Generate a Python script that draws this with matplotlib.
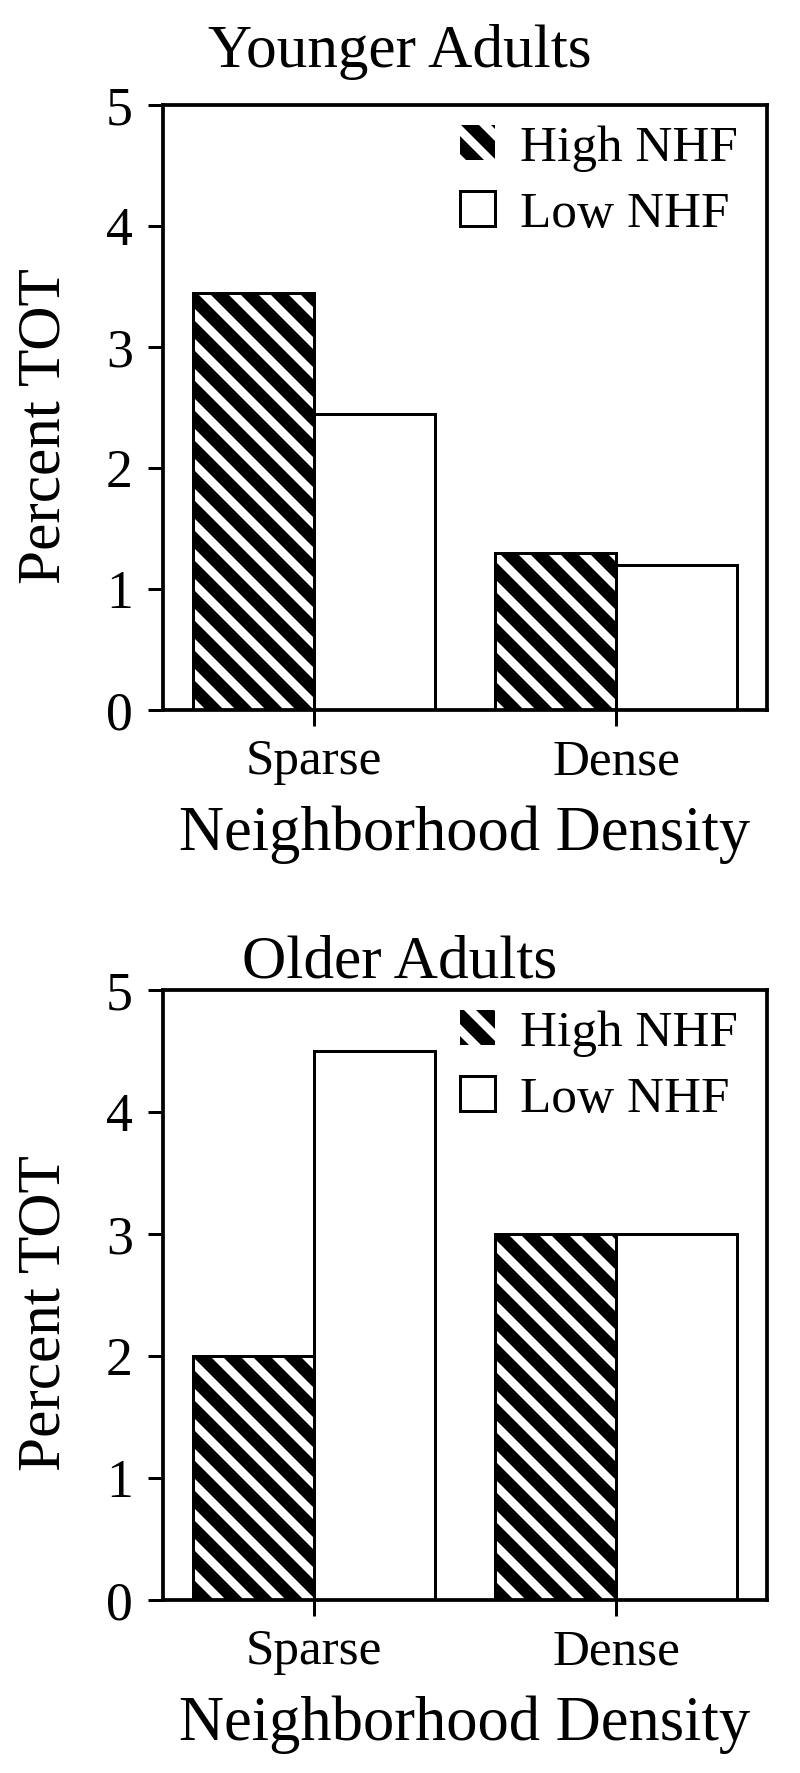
import numpy as np
import matplotlib.pyplot as plt

# hatch cell = dpi pixels, so 180 dpi gives wide stripes like the scan
DPI = 180
plt.rcParams['font.family'] = ['Liberation Serif', 'DejaVu Serif']
plt.rcParams['hatch.linewidth'] = 3.4

categories = ['Sparse', 'Dense']
series_names = ['High NHF', 'Low NHF']
younger_high = [3.45, 1.30]
younger_low = [2.45, 1.20]
older_high = [2.0, 3.0]
older_low = [4.5, 3.0]
yticks = [0, 1, 2, 3, 4, 5]

fig = plt.figure(figsize=(800 / DPI, 1773 / DPI), dpi=DPI)
ax1 = fig.add_axes([0.20375, 0.59955, 0.755, 0.34123])
ax2 = fig.add_axes([0.20375, 0.09757, 0.755, 0.34405])

x = np.arange(len(categories))
w = 0.4


def draw_panel(ax, high, low, title, title_pad):
    ax.bar(x - w / 2, high, w, color='black', edgecolor='white', hatch='\\\\',
           linewidth=0, label=series_names[0])
    ax.bar(x - w / 2, high, w, fill=False, edgecolor='black', linewidth=1.2)
    ax.bar(x + w / 2, low, w, color='white', edgecolor='black', linewidth=1.2,
           label=series_names[1])
    ax.set_xlim(-0.5, 1.5)
    ax.set_ylim(0, 5)
    ax.set_yticks(yticks)
    ax.set_xticks(x)
    ax.set_xticklabels(categories)
    for s in ax.spines.values():
        s.set_linewidth(1.5)
    ax.tick_params(axis='y', direction='out', length=6, width=1.2,
                   labelsize=21.5, pad=6)
    ax.tick_params(axis='x', direction='out', length=6.5, width=1.2,
                   labelsize=20.5, pad=5)
    ax.set_xlabel('Neighborhood Density', fontsize=25, labelpad=8)
    ax.set_ylabel('Percent TOT', fontsize=24.5)
    ax.yaxis.set_label_coords(-0.15, 0.47)
    # title sits at the middle of the figure, not of the axes
    ax.set_title(title, fontsize=24.5, pad=title_pad, x=0.392)
    ax.legend(loc='upper right', bbox_to_anchor=(0.952, 0.967), frameon=False,
              fontsize=20.5, handlelength=0.68, handleheight=0.68,
              handletextpad=0.5, labelspacing=0.38, borderpad=0,
              borderaxespad=0)


draw_panel(ax1, younger_high, younger_low, 'Younger Adults', 15)
draw_panel(ax2, older_high, older_low, 'Older Adults', 0)

fig.savefig('out.png', dpi=DPI)
